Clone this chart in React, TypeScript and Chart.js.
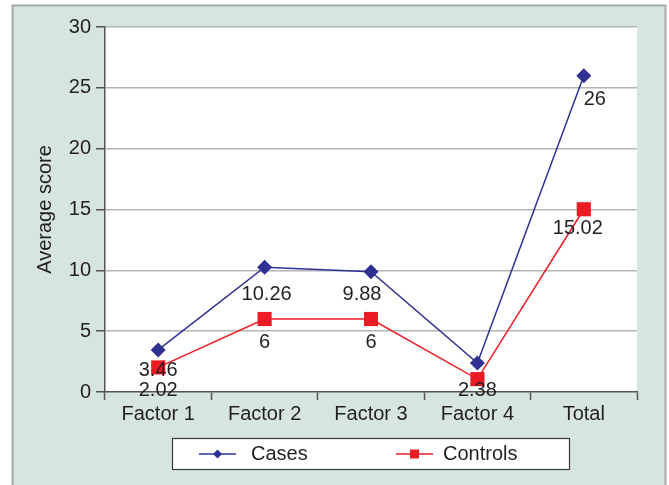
import React, { useEffect, useRef } from "react";
import { Chart, registerables } from "chart.js";

Chart.register(...registerables);

const categories = ["Factor 1", "Factor 2", "Factor 3", "Factor 4", "Total"];
const casesValues = [3.46, 10.26, 9.88, 2.38, 26];
const controlsValues = [2.02, 6, 6, 1.06, 15.02];
const casesLabels = ["3.46", "10.26", "9.88", "2.38", "26"];
const controlsLabels = ["2.02", "6", "6", "", "15.02"];
const yMin = 0;
const yMax = 30;
const yStep = 5;

const FONT = "'Liberation Sans', Arial, Helvetica, sans-serif";
const TEXT = "#231f20";
const CASES_COLOR = "#2e3192";
const CONTROLS_COLOR = "#ed1c24";
const PANEL = "#d6e5e2";

// label nudges (pixels) relative to default position below the point
const casesNudge = [
  { dx: 0, dy: -2 },
  { dx: 2, dy: 4 },
  { dx: -9, dy: 0 },
  { dx: 0, dy: 4 },
  { dx: 11, dy: 1 },
];
const controlsNudge = [
  { dx: 0, dy: 0 },
  { dx: 0, dy: 0 },
  { dx: 0, dy: 0 },
  { dx: 0, dy: 0 },
  { dx: -6, dy: -4 },
];

const panelPlugin = {
  id: "panelBg",
  beforeDraw(chart: any) {
    const { ctx, chartArea } = chart;
    ctx.save();
    ctx.fillStyle = "#ffffff";
    ctx.fillRect(0, 0, chart.width, chart.height);
    ctx.fillStyle = PANEL;
    ctx.fillRect(12, 5, 654, chart.height);
    ctx.strokeStyle = "#a8a8a8";
    ctx.lineWidth = 2;
    ctx.beginPath();
    ctx.moveTo(12.5, chart.height + 2);
    ctx.lineTo(12.5, 5.5);
    ctx.lineTo(665.5, 5.5);
    ctx.lineTo(665.5, chart.height + 2);
    ctx.stroke();
    ctx.fillStyle = "#ffffff";
    ctx.fillRect(chartArea.left, chartArea.top, chartArea.right - chartArea.left, chartArea.bottom - chartArea.top);
    ctx.restore();
  },
};

const labelsPlugin = {
  id: "pointLabels",
  afterDatasetsDraw(chart: any) {
    const { ctx } = chart;
    const sets = [
      { labels: casesLabels, nudge: casesNudge },
      { labels: controlsLabels, nudge: controlsNudge },
    ];
    ctx.save();
    ctx.font = `20px ${FONT}`;
    ctx.fillStyle = TEXT;
    ctx.textAlign = "center";
    ctx.textBaseline = "middle";
    sets.forEach((s, di) => {
      const meta = chart.getDatasetMeta(di);
      meta.data.forEach((pt: any, i: number) => {
        const txt = s.labels[i];
        if (!txt) return;
        ctx.fillText(txt, pt.x + s.nudge[i].dx, pt.y + 23 + s.nudge[i].dy);
      });
    });
    ctx.restore();
  },
};

const legendPlugin = {
  id: "customLegend",
  afterDraw(chart: any) {
    const { ctx } = chart;
    ctx.save();
    ctx.fillStyle = "#ffffff";
    ctx.fillRect(172.5, 438.5, 397, 31);
    ctx.strokeStyle = "#3a3a3a";
    ctx.lineWidth = 1.2;
    ctx.strokeRect(172.5, 438.5, 397, 31);
    const y = 454;
    // Cases
    ctx.strokeStyle = CASES_COLOR;
    ctx.lineWidth = 1.5;
    ctx.beginPath();
    ctx.moveTo(199, y);
    ctx.lineTo(236, y);
    ctx.stroke();
    ctx.fillStyle = CASES_COLOR;
    ctx.beginPath();
    ctx.moveTo(217.5 - 4.5, y);
    ctx.lineTo(217.5, y - 4.5);
    ctx.lineTo(217.5 + 4.5, y);
    ctx.lineTo(217.5, y + 4.5);
    ctx.closePath();
    ctx.fill();
    // Controls
    ctx.strokeStyle = CONTROLS_COLOR;
    ctx.beginPath();
    ctx.moveTo(396, y);
    ctx.lineTo(433, y);
    ctx.stroke();
    ctx.fillStyle = CONTROLS_COLOR;
    ctx.fillRect(414.5 - 4.5, y - 4.5, 9, 9);
    ctx.fillStyle = TEXT;
    ctx.font = `20px ${FONT}`;
    ctx.textAlign = "left";
    ctx.textBaseline = "middle";
    ctx.fillText("Cases", 251, y);
    ctx.fillText("Controls", 443, y);
    ctx.restore();
  },
};

export default function App() {
  const canvasRef = useRef<HTMLCanvasElement | null>(null);

  useEffect(() => {
    if (!canvasRef.current) return;
    const chart = new Chart(canvasRef.current, {
      type: "line",
      data: {
        labels: categories,
        datasets: [
          {
            label: "Cases",
            data: casesValues,
            borderColor: CASES_COLOR,
            backgroundColor: CASES_COLOR,
            borderWidth: 1.5,
            pointStyle: "rectRot",
            pointRadius: 7.5,
            pointBorderWidth: 0,
            pointBackgroundColor: CASES_COLOR,
            tension: 0,
          },
          {
            label: "Controls",
            data: controlsValues,
            borderColor: CONTROLS_COLOR,
            backgroundColor: CONTROLS_COLOR,
            borderWidth: 1.5,
            pointStyle: "rect",
            pointRadius: 10,
            pointBorderWidth: 0,
            pointBackgroundColor: CONTROLS_COLOR,
            tension: 0,
          },
        ],
      },
      options: {
        responsive: false,
        animation: false,
        devicePixelRatio: 1,
        layout: { padding: { left: 0, top: 27, right: 32, bottom: 0 } },
        plugins: {
          legend: { display: false },
          tooltip: { enabled: false },
          title: { display: false },
        },
        scales: {
          x: {
            type: "category",
            offset: true,
            grid: {
              display: true,
              drawOnChartArea: false,
              drawTicks: true,
              offset: true,
              tickLength: 8,
              tickColor: "#555555",
              tickWidth: 1.5,
            },
            border: { display: true, color: "#555555", width: 1.5 },
            ticks: {
              color: TEXT,
              font: { family: FONT, size: 20 },
              padding: 2,
              maxRotation: 0,
              autoSkip: false,
            },
            afterFit(scale: any) {
              scale.height = 93;
            },
          },
          y: {
            min: yMin,
            max: yMax,
            ticks: {
              stepSize: yStep,
              color: TEXT,
              font: { family: FONT, size: 20 },
              padding: 5,
            },
            grid: {
              color: (c: any) => (c.tick && c.tick.value === 0 ? "rgba(0,0,0,0)" : "#b4b4b4"),
              lineWidth: 1.5,
              tickLength: 9,
              tickColor: "#555555",
              tickWidth: 1.5,
            },
            border: { display: true, color: "#555555", width: 1.5 },
            title: {
              display: true,
              text: "Average score",
              color: TEXT,
              font: { family: FONT, size: 20 },
              padding: { top: 33, bottom: 0 },
            },
            afterFit(scale: any) {
              scale.width = 105;
            },
          },
        },
      },
      plugins: [panelPlugin, labelsPlugin, legendPlugin],
    } as any);
    return () => chart.destroy();
  }, []);

  return (
    <div style={{ position: "absolute", left: 0, top: 0, width: 669, height: 485 }}>
      <canvas ref={canvasRef} width={669} height={485} style={{ display: "block" }} />
    </div>
  );
}
